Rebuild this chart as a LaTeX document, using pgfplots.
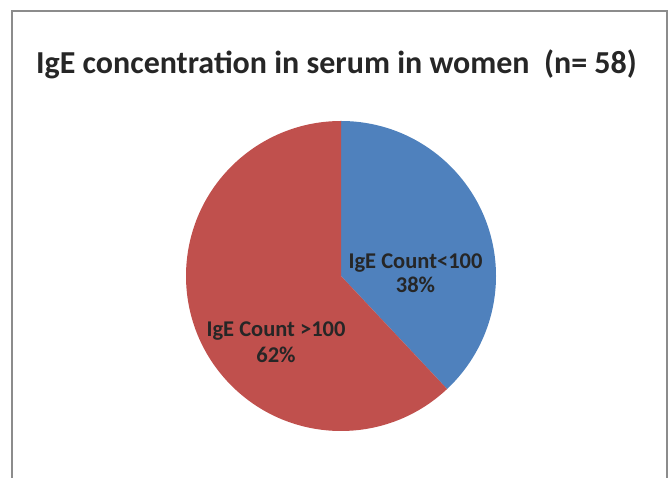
\documentclass[border=0pt]{standalone}
\usepackage{pgfplots}
\usepackage{pgfplotstable}
\usepackage{fontspec}
\setmainfont{Carlito}
\pgfplotsset{compat=1.18}
\definecolor{pieblue}{HTML}{4F81BD}
\definecolor{piered}{HTML}{C0504D}
\definecolor{txt}{HTML}{262626}
\definecolor{framegray}{HTML}{8C8C8C}
\pgfplotstableread{
label value
low 38
high 62
}\piedata
\begin{document}
\begin{tikzpicture}
\pgfplotstablegetelem{0}{value}\of\piedata \let\vlow\pgfplotsretval
\pgfplotstablegetelem{1}{value}\of\piedata \let\vhigh\pgfplotsretval
\pgfmathsetmacro{\aone}{90-3.6*\vlow}
\pgfmathsetmacro{\atwo}{\aone-3.6*\vhigh}
\begin{axis}[
  width=672pt, height=478pt, scale only axis,
  xmin=0, xmax=672, ymin=0, ymax=478,
  hide axis, clip=true,
]
\path (axis cs:0,0) (axis cs:672,478);
\fill[pieblue] (axis cs:341,202) -- ++(90:155pt) arc[start angle=90, end angle=\aone, radius=155pt] -- cycle;
\fill[piered] (axis cs:341,202) -- ++(\aone:155pt) arc[start angle=\aone, end angle=\atwo, radius=155pt] -- cycle;
\draw[framegray, line width=1.3pt] (axis cs:12,0) -- (axis cs:12,467) -- (axis cs:667,467) -- (axis cs:667,0);
\node[anchor=base, text=txt, font=\fontsize{32}{38}\selectfont\bfseries] at (axis cs:336.5,404) {IgE concentration in serum in women\ \ (n= 58)};
\node[anchor=base, text=txt, font=\fontsize{22.5}{26}\selectfont\bfseries] at (axis cs:415.5,209) {IgE Count<100};
\node[anchor=base, text=txt, font=\fontsize{22.5}{26}\selectfont\bfseries] at (axis cs:415.5,185) {\vlow\%};
\node[anchor=base, text=txt, font=\fontsize{22.5}{26}\selectfont\bfseries] at (axis cs:276,141) {IgE Count >100};
\node[anchor=base, text=txt, font=\fontsize{22.5}{26}\selectfont\bfseries] at (axis cs:276,115) {\vhigh\%};
\end{axis}
\end{tikzpicture}
\end{document}
